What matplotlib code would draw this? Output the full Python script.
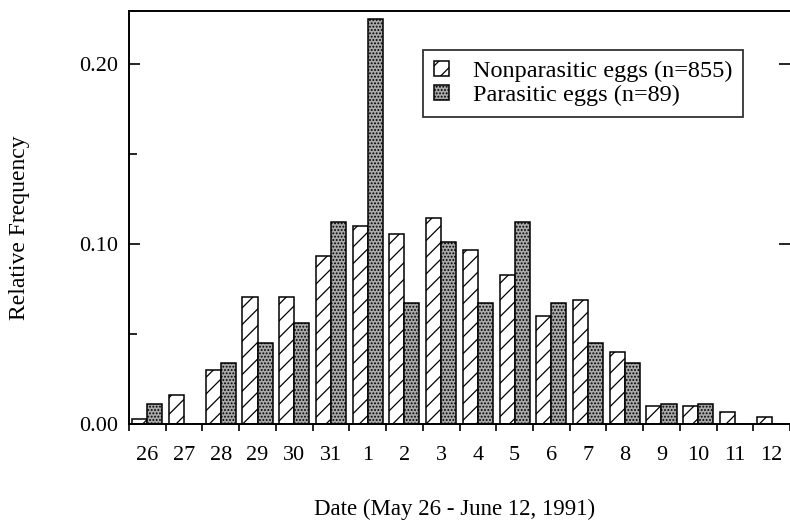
import numpy as np
import matplotlib
matplotlib.use('Agg')
import matplotlib.pyplot as plt
from matplotlib.ticker import FixedLocator

plt.rcParams['font.family'] = ['Liberation Serif', 'DejaVu Serif']
plt.rcParams['hatch.linewidth'] = 0.9

# dates May 26 - June 12, 1991
dates = ['26', '27', '28', '29', '30', '31', '1', '2', '3', '4', '5', '6',
         '7', '8', '9', '10', '11', '12']

# relative frequencies
nonparasitic = [0.0026, 0.016, 0.030, 0.0707, 0.0707, 0.0933, 0.110, 0.1054,
                0.1146, 0.0967, 0.0828, 0.060, 0.069, 0.0398, 0.0102, 0.0102,
                0.0065, 0.0037]
parasitic = [0.0112, 0.0, 0.0337, 0.0449, 0.0562, 0.1124, 0.2247, 0.0674,
             0.1011, 0.0674, 0.1124, 0.0674, 0.0449, 0.0337, 0.0112, 0.0112,
             0.0, 0.0]

x = np.arange(len(dates))
w = 0.41

fig = plt.figure(figsize=(7.9, 5.24), dpi=100)
ax = fig.add_axes([129/790, 100/524, 661/790, 413/524])

ax.bar(x - w/2, nonparasitic, w, facecolor='white', edgecolor='black',
       hatch='//', lw=1.1, label='Nonparasitic eggs (n=855)')
ax.bar(x + w/2, parasitic, w, facecolor='#a9a9a9', edgecolor='black',
       hatch='.....', lw=1.1, label='Parasitic eggs (n=89)')

ax.set_xlim(-0.5, len(dates) - 0.5)
ax.set_ylim(0, 0.2294)

# x: labels at group centres, small outward ticks at group boundaries
ax.set_xticks(x)
ax.set_xticklabels(dates)
ax.xaxis.set_minor_locator(FixedLocator(np.arange(-0.5, len(dates), 1.0)))
ax.tick_params(axis='x', which='major', length=0, pad=16, labelsize=16)
ax.tick_params(axis='x', which='minor', direction='out', length=5, width=1.2)

# y: inward ticks, major also on the right side
ax.set_yticks([0.0, 0.1, 0.2])
ax.set_yticklabels(['0.00', '0.10', '0.20'])
ax.yaxis.set_minor_locator(FixedLocator([0.05, 0.15]))
ax.tick_params(axis='y', which='major', direction='in', length=8, width=1.2,
               right=True, labelsize=16, pad=8)
ax.tick_params(axis='y', which='minor', direction='in', length=6, width=1.2,
               right=False)

for s in ['left', 'bottom', 'top']:
    ax.spines[s].set_linewidth(1.4)
ax.spines['right'].set_visible(False)

ax.set_xlabel('Date (May 26 - June 12, 1991)', fontsize=16.5)
ax.set_ylabel('Relative Frequency', fontsize=17)
ax.xaxis.set_label_coords(0.493, -0.180)
ax.xaxis.label.set_va('top')
ax.yaxis.set_label_coords(-0.150, 0.475)

leg = ax.legend(loc='upper left', bbox_to_anchor=(0.445, 0.906),
                fontsize=17.5, frameon=True, fancybox=False,
                handlelength=0.6, handleheight=0.6, handletextpad=1.0,
                labelspacing=0.12, borderpad=0.45, borderaxespad=0)
leg.get_frame().set_edgecolor('black')
leg.get_frame().set_linewidth(1.3)

fig.savefig('out.png', dpi=100)
